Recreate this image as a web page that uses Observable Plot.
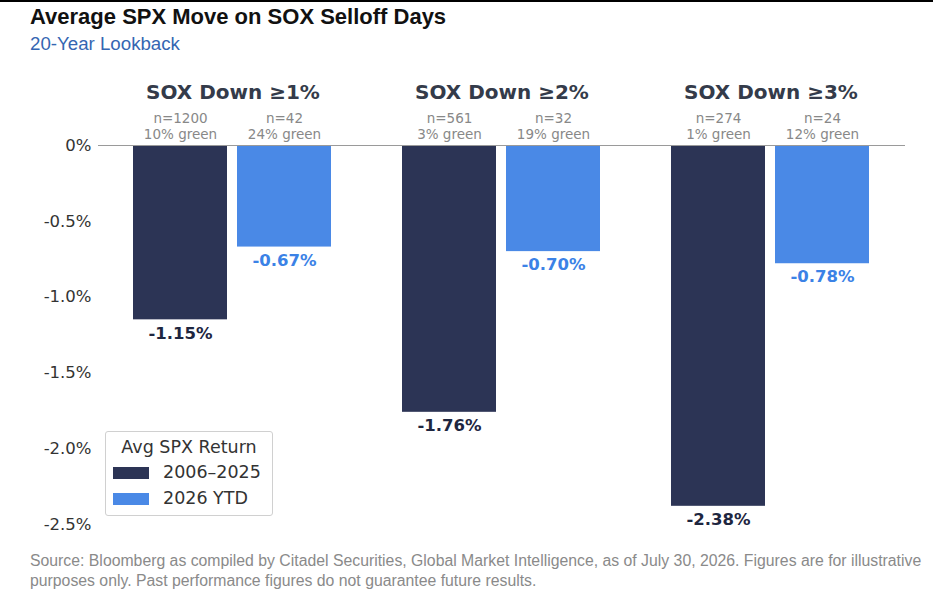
<!DOCTYPE html>
<html>
<head>
<meta charset="utf-8">
<script src="https://cdn.jsdelivr.net/npm/d3@7"></script>
<script src="https://cdn.jsdelivr.net/npm/@observablehq/plot@0.6"></script>
<style>
  html, body { margin: 0; padding: 0; background: #fff; }
  body { width: 935px; height: 596px; position: relative; overflow: hidden; }
  #topline { position: absolute; left: 0; top: 0; width: 933px; height: 2px; background: #000; }
  #title { position: absolute; left: 30px; top: 6px; font: bold 22px/22px "Liberation Sans", Arial, sans-serif; color: #111; white-space: nowrap; }
  #subtitle { position: absolute; left: 30px; top: 35px; font: 18.7px/18px "Liberation Sans", Arial, sans-serif; color: #3566b2; white-space: nowrap; }
  #chart { position: absolute; left: 0; top: 60px; }
  #legend { position: absolute; left: 105px; top: 431px; width: 166px; height: 83px; border: 1px solid #d0d0d0; border-radius: 3px; background: #fff; font-family: "DejaVu Sans", sans-serif; color: #333; }
  #legend .lt { position: absolute; left: 0; width: 100%; top: 4px; text-align: center; font-size: 17.5px; line-height: 22px; }
  #legend .row { position: absolute; left: 7px; height: 22px; font-size: 17.5px; line-height: 22px; white-space: nowrap; }
  #legend .sw { display: inline-block; width: 36px; height: 12px; vertical-align: -1px; margin-right: 14px; }
  #footer { position: absolute; left: 30px; top: 551px; font: 15.8px/20px "Liberation Sans", Arial, sans-serif; color: #8a8a8a; white-space: nowrap; }
</style>
</head>
<body>
<div id="topline"></div>
<div id="title">Average SPX Move on SOX Selloff Days</div>
<div id="subtitle">20-Year Lookback</div>
<div id="chart"></div>
<div id="legend"></div>
<div id="footer">Source: Bloomberg as compiled by Citadel Securities, Global Market Intelligence, as of July 30, 2026. Figures are for illustrative<br>purposes only. Past performance figures do not guarantee future results.</div>
<script>
const groups = ["SOX Down ≥1%", "SOX Down ≥2%", "SOX Down ≥3%"];
const series = ["2006–2025", "2026 YTD"];
const histValues = [-1.15, -1.76, -2.38];
const ytdValues = [-0.67, -0.70, -0.78];
const histN = [1200, 561, 274];
const ytdN = [42, 32, 24];
const histGreen = [10, 3, 1];
const ytdGreen = [24, 19, 12];
const yTicks = [0, -0.5, -1.0, -1.5, -2.0, -2.5];
const legendTitle = "Avg SPX Return";

const barColors = ["#2c3455", "#4a89e6"];
const labelColors = ["#1e2640", "#3b82e6"];

const data = [];
groups.forEach((g, i) => {
  data.push({group: g, series: series[0], value: histValues[i], n: histN[i], green: histGreen[i]});
  data.push({group: g, series: series[1], value: ytdValues[i], n: ytdN[i], green: ytdGreen[i]});
});

const fmtTick = d => d === 0 ? "0%" : d.toFixed(1) + "%";
const fmtVal = d => d.toFixed(2) + "%";

const chart = Plot.plot({
  width: 935,
  height: 480,
  marginLeft: 97,
  marginRight: 30,
  marginTop: 85,
  marginBottom: 16,
  style: {fontFamily: "DejaVu Sans, sans-serif", fontSize: "16.5px", color: "#333", background: "transparent"},
  fx: {domain: groups, padding: 0, axis: null},
  x: {domain: series, paddingInner: 0.095, paddingOuter: 0.33, axis: null},
  y: {domain: [-2.5, 0], ticks: yTicks, tickFormat: fmtTick, tickSize: 0, tickPadding: 7, label: null},
  color: {domain: series, range: barColors},
  marks: [
    Plot.barY(data, {fx: "group", x: "series", y: "value", fill: "series"}),
    Plot.ruleY([0], {stroke: "#9a9a9a", strokeWidth: 1}),
    ...series.map((s, k) => Plot.text(data.filter(d => d.series === s), {
      fx: "group", x: "series", y: "value", text: d => fmtVal(d.value),
      lineAnchor: "top", dy: 7, fill: labelColors[k], fontWeight: "bold", fontSize: 16.5
    })),
    Plot.text(data, {
      fx: "group", x: "series", text: d => `n=${d.n}\n${d.green}% green`,
      frameAnchor: "top", lineAnchor: "bottom", dy: -7, fontSize: 13.5, lineHeight: 1.18, fill: "#888"
    }),
    Plot.text(groups, {
      fx: d => d, text: d => d, frameAnchor: "top", lineAnchor: "bottom", dy: -47,
      fontSize: 20, fontWeight: "bold", fill: "#343b4a"
    })
  ]
});
document.getElementById("chart").appendChild(chart);

const legend = document.getElementById("legend");
const lt = document.createElement("div");
lt.className = "lt";
lt.textContent = legendTitle;
legend.appendChild(lt);
series.forEach((s, k) => {
  const row = document.createElement("div");
  row.className = "row";
  row.style.top = (29 + k * 26) + "px";
  const sw = document.createElement("span");
  sw.className = "sw";
  sw.style.background = barColors[k];
  row.appendChild(sw);
  row.appendChild(document.createTextNode(s));
  legend.appendChild(row);
});
</script>
</body>
</html>
